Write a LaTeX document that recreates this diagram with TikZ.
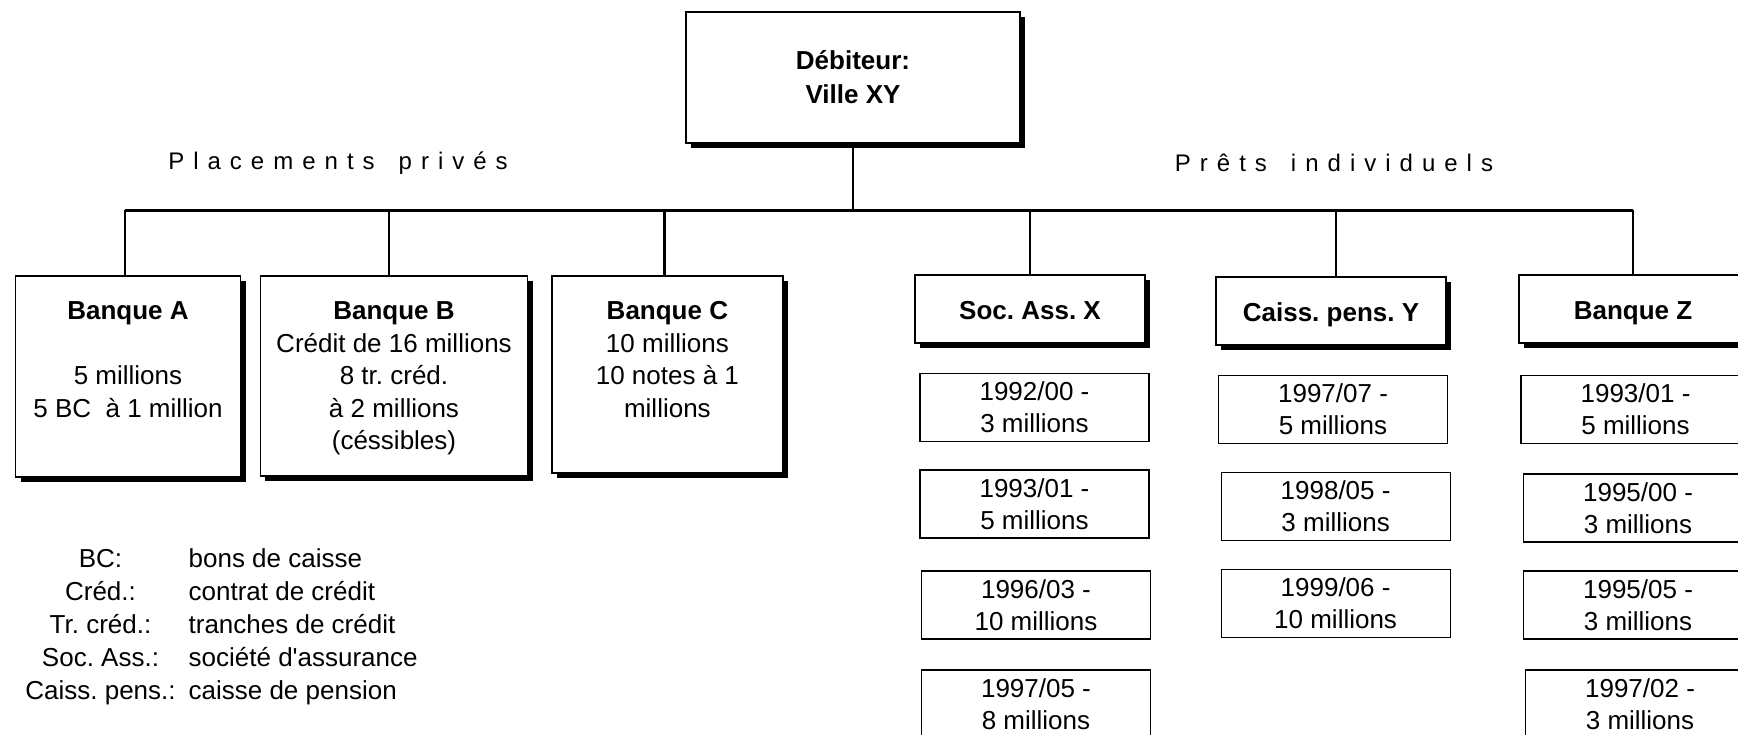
\documentclass[tikz,border=0pt]{standalone}
\usepackage{fontspec}
\setmainfont{Liberation Sans}[Ligatures=TeXOff]
\usetikzlibrary{shadows}
\frenchspacing

\tikzset{
  every node/.style={inner sep=0pt, font=\fontsize{13}{16.25}\selectfont},
  mainbox/.style={draw, line width=0.7pt, fill=white,
    drop shadow={shadow xshift=2.5pt, shadow yshift=-2.5pt, fill=black, opacity=1}},
  subbox/.style={draw, line width=0.6pt, fill=white, minimum width=114.5pt,
    minimum height=34pt, align=center, font=\fontsize{13}{16}\selectfont},
  hdr/.style={mainbox, minimum width=115pt, minimum height=34pt,
    text height=10pt, text depth=0pt,
    font=\fontsize{13}{16}\selectfont\bfseries},
  btext/.style={anchor=north, align=center, font=\fontsize{13}{16.25}\selectfont},
  lbl/.style={font=\fontsize{12}{14}\selectfont\addfontfeatures{LetterSpace=37.5}},
  dropline/.style={line width=1.2pt},
  busline/.style={line width=1.5pt},
}

\begin{document}
\frenchspacing
\begin{tikzpicture}[x=0.5pt, y=-0.5pt]
\fill[white] (0,0) rectangle (1738,734);
\clip (0,0) rectangle (1738,734);
\useasboundingbox (0,0) rectangle (1738,734);

% top node
\node[mainbox, minimum width=167pt, minimum height=65.5pt, align=center,
      font=\fontsize{13}{17}\selectfont\bfseries] (deb) at (853,77.5) {Débiteur:\\Ville XY};

% group labels
\node[lbl] (pp) at (338,163) {Placements\hspace{12pt}privés};
\node[lbl] (pi) at (1334,163) {Prêts\hspace{12pt}individuels};

% private placements
\node[mainbox, minimum width=112.5pt, minimum height=100.5pt] (A) at (128,376.5) {};
\node[btext] (Atxt) at ([yshift=-13pt]A.north)
  {\textbf{Banque A}\\[16.25pt]5 millions\\5 BC~ à 1 million};

\node[mainbox, minimum width=133.75pt, minimum height=100pt] (B) at (394,376) {};
\node[btext] (Btxt) at ([yshift=-13pt]B.north)
  {\textbf{Banque B}\\Crédit de 16 millions\\8 tr. créd.\\à 2 millions\\(céssibles)};

\node[mainbox, minimum width=115.5pt, minimum height=98.5pt] (C) at (667.4,374.5) {};
\node[btext] (Ctxt) at ([yshift=-13pt]C.north)
  {\textbf{Banque C}\\10 millions\\10 notes à 1\\millions};

% individual loans headers
\node[hdr] (soc) at (1030,309) {Soc. Ass. X};
\node[hdr] (caiss) at (1331,311) {Caiss. pens. Y};
\node[hdr, minimum width=114pt] (Z) at (1633,309) {Banque Z};

% sub boxes
\node[subbox] (s1) at (1034.5,407.5) {1992/00 -\\3 millions};
\node[subbox] (s2) at (1034.5,504) {1993/01 -\\5 millions};
\node[subbox] (s3) at (1036,605) {1996/03 -\\10 millions};
\node[subbox] (s4) at (1036,704) {1997/05 -\\8 millions};

\node[subbox] (c1) at (1333,409.3) {1997/07 -\\5 millions};
\node[subbox] (c2) at (1335.6,506.3) {1998/05 -\\3 millions};
\node[subbox] (c3) at (1335.6,603.3) {1999/06 -\\10 millions};

\node[subbox] (z1) at (1635.5,409.3) {1993/01 -\\5 millions};
\node[subbox] (z2) at (1638,508) {1995/00 -\\3 millions};
\node[subbox] (z3) at (1638,605) {1995/05 -\\3 millions};
\node[subbox] (z4) at (1640,704) {1997/02 -\\3 millions};

% connectors
\coordinate (bus) at (853,210);
\draw[dropline] (deb.south) -- (deb.south |- bus);
\draw[busline] ([xshift=-1.5pt]A.north |- bus) -- (Z.north |- bus);
\draw[dropline] ([xshift=-1.5pt]A.north |- bus) -- ([xshift=-1.5pt]A.north);
\draw[dropline] ([xshift=-2.5pt]B.north |- bus) -- ([xshift=-2.5pt]B.north);
\draw[dropline] ([xshift=-1.5pt]C.north |- bus) -- ([xshift=-1.5pt]C.north);
\draw[dropline] (soc.north |- bus) -- (soc.north);
\draw[dropline] ([xshift=2.5pt]caiss.north |- bus) -- ([xshift=2.5pt]caiss.north);
\draw[dropline] (Z.north |- bus) -- (Z.north);

% legend
\node (leg) at (221.5,627) {\fontsize{13}{16.5}\selectfont
  \begin{tabular}{@{}c@{\hspace{6.5pt}}l@{}}
  BC: & bons de caisse\\
  Créd.: & contrat de crédit\\
  Tr. créd.: & tranches de crédit\\
  Soc. Ass.: & société d'assurance\\
  Caiss. pens.: & caisse de pension
  \end{tabular}};
\end{tikzpicture}
\end{document}
